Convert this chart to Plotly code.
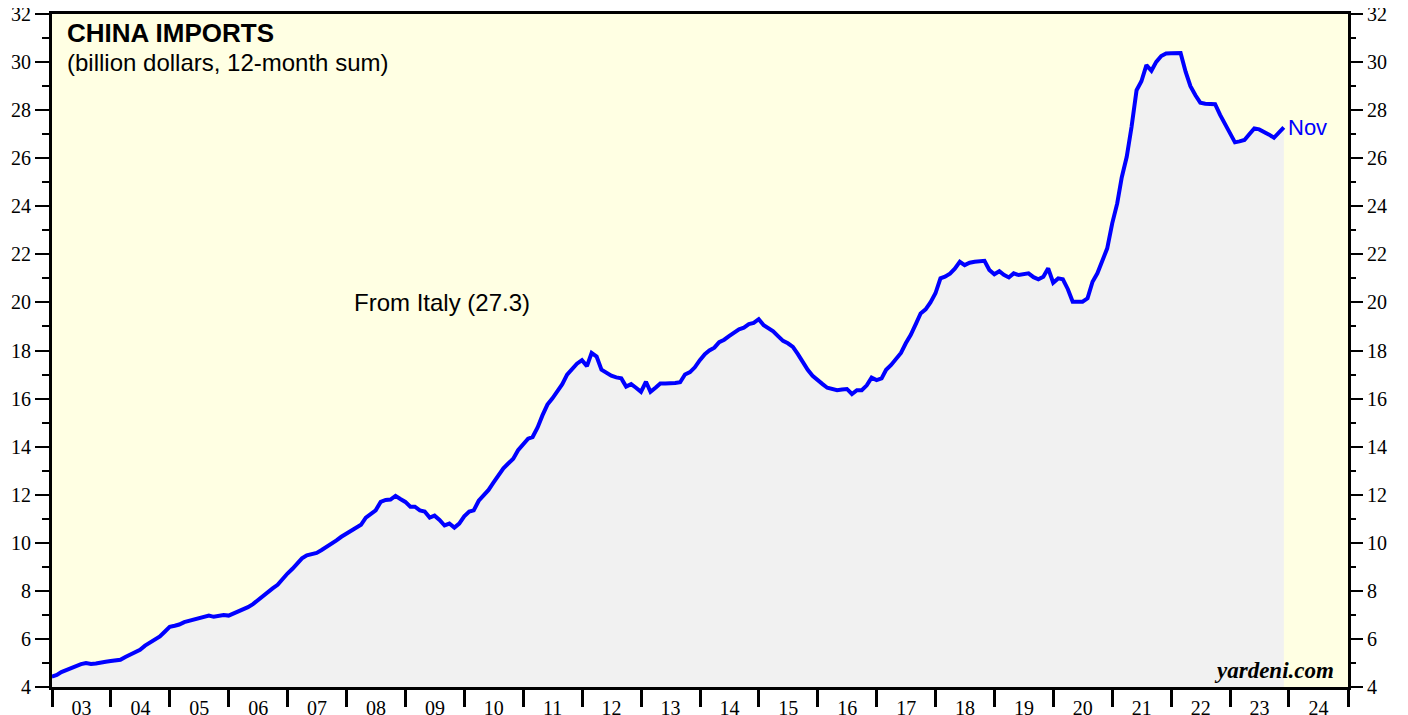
import pandas as pd
import plotly.graph_objects as go

# China imports from Italy, billion dollars, 12-month sum (Dec 2002 .. Nov 2023)
imports = [
    4.43,
    4.50, 4.62, 4.70, 4.82, 4.88, 4.95, 5.00, 4.96, 4.98, 5.03, 5.05, 5.08,
    5.10, 5.13, 5.25, 5.35, 5.45, 5.55, 5.72, 5.85, 5.98, 6.10, 6.30, 6.50,
    6.55, 6.60, 6.70, 6.75, 6.82, 6.88, 6.92, 6.97, 6.92, 6.97, 6.99, 6.97,
    7.05, 7.12, 7.20, 7.32, 7.45, 7.62, 7.80, 7.95, 8.10, 8.25, 8.50, 8.72,
    8.92, 9.10, 9.35, 9.48, 9.52, 9.58, 9.70, 9.82, 9.95, 10.10, 10.25, 10.38,
    10.50, 10.65, 10.75, 11.05, 11.20, 11.35, 11.70, 11.78, 11.80, 11.95, 11.82, 11.70,
    11.50, 11.50, 11.35, 11.30, 11.05, 11.13, 10.95, 10.72, 10.80, 10.63, 10.80, 11.10,
    11.30, 11.35, 11.75, 11.95, 12.20, 12.50, 12.80, 13.10, 13.30, 13.50, 13.85, 14.10,
    14.33, 14.40, 14.80, 15.30, 15.75, 16.00, 16.30, 16.60, 17.00, 17.25, 17.45, 17.60,
    17.35, 17.90, 17.75, 17.20, 17.05, 16.95, 16.88, 16.84, 16.50, 16.60, 16.45, 16.28,
    16.70, 16.28, 16.45, 16.63, 16.63, 16.63, 16.65, 16.68, 17.00, 17.10, 17.30, 17.60,
    17.85, 18.00, 18.12, 18.35, 18.45, 18.60, 18.75, 18.88, 18.95, 19.10, 19.15, 19.30,
    19.05, 18.95, 18.80, 18.60, 18.40, 18.30, 18.15, 17.85, 17.50, 17.20, 16.95, 16.80,
    16.60, 16.45, 16.40, 16.35, 16.38, 16.40, 16.19, 16.35, 16.35, 16.55, 16.87, 16.77,
    16.84, 17.20, 17.40, 17.65, 17.90, 18.30, 18.65, 19.10, 19.54, 19.71, 20.00, 20.38,
    21.00, 21.07, 21.20, 21.40, 21.69, 21.55, 21.65, 21.69, 21.70, 21.73, 21.35, 21.17,
    21.30, 21.15, 21.04, 21.21, 21.14, 21.18, 21.21, 21.05, 20.96, 21.07, 21.42, 20.82,
    21.00, 20.96, 20.55, 20.03, 20.05, 20.03, 20.17, 20.86, 21.21, 21.70, 22.25, 23.29,
    24.12, 25.20, 26.06, 27.31, 28.83, 29.20, 29.87, 29.64, 30.01, 30.25, 30.36, 30.37,
    30.38, 30.38, 29.60, 29.00, 28.62, 28.31, 28.27, 28.25, 28.25, 27.80, 27.40, 27.00,
    26.66, 26.70, 26.76, 27.00, 27.24, 27.20, 27.10, 26.98, 26.85, 27.10, 27.28,
]
months = pd.date_range("2002-12-31", periods=len(imports), freq="ME")

y_ticks = list(range(4, 33, 2))

SERIF = "Liberation Serif"
SANS = "Liberation Sans"

fig = go.Figure()
fig.add_trace(
    go.Scatter(
        x=months,
        y=imports,
        mode="lines",
        line=dict(color="#0000FF", width=4),
        fill="tozeroy",
        fillcolor="#F1F1F1",
        hoverinfo="x+y",
        showlegend=False,
    )
)
# invisible trace so the right-hand axis gets drawn
fig.add_trace(
    go.Scatter(x=[months[0]], y=[imports[0]], yaxis="y2", mode="markers",
               marker=dict(opacity=0), hoverinfo="skip", showlegend=False)
)

axis_y = dict(
    range=[4, 32],
    tickvals=y_ticks,
    ticks="outside",
    ticklen=14,
    tickwidth=1.5,
    tickcolor="black",
    showgrid=False,
    zeroline=False,
    automargin=False,
    ticklabeloverflow="allow",
    tickfont=dict(family=SERIF, size=20, color="black"),
    minor=dict(dtick=1, ticks="outside", ticklen=7, tickwidth=1.5, tickcolor="black"),
)

# page body has an 8px margin, so the figure is a bit smaller than the window
fig.update_layout(
    width=1400,
    height=707,
    margin=dict(l=44, r=60, t=6, b=28),
    paper_bgcolor="white",
    plot_bgcolor="#FFFFE3",
    xaxis=dict(
        type="date",
        range=["2003-01-01", "2025-01-01"],
        tick0="2003-01-01",
        dtick="M12",
        tickformat="%y",
        ticklabelmode="period",
        ticklabelstandoff=-16,
        ticklabeloverflow="allow",
        ticks="outside",
        ticklen=17,
        tickwidth=2.5,
        tickcolor="black",
        showgrid=False,
        showline=True,
        linecolor="black",
        linewidth=3,
        mirror=True,
        automargin=False,
        tickfont=dict(family=SERIF, size=20, color="black"),
    ),
    yaxis=dict(**axis_y, side="left", showline=True, linecolor="black", linewidth=3, mirror=True),
    yaxis2=dict(**axis_y, side="right", overlaying="y", matches="y", showline=False),
    annotations=[
        dict(text="<b>CHINA IMPORTS</b>", x=0.010, y=0.997, xref="paper", yref="paper",
             xanchor="left", yanchor="top", showarrow=False,
             font=dict(family=SANS, size=26, color="black")),
        dict(text="(billion dollars, 12-month sum)", x=0.010, y=0.951, xref="paper", yref="paper",
             xanchor="left", yanchor="top", showarrow=False,
             font=dict(family=SANS, size=24, color="black")),
        dict(text="From Italy (27.3)", x=0.301, y=0.572, xref="paper", yref="paper",
             xanchor="center", yanchor="middle", showarrow=False,
             font=dict(family=SANS, size=24, color="black")),
        dict(text="Nov", x=months[-1], y=imports[-1], xref="x", yref="y",
             xanchor="left", yanchor="middle", xshift=2, showarrow=False,
             font=dict(family=SANS, size=22, color="#0000FF")),
        dict(text="<b><i>yardeni.com</i></b>", x=0.991, y=0.025, xref="paper", yref="paper",
             xanchor="right", yanchor="middle", showarrow=False,
             font=dict(family=SERIF, size=23, color="black")),
    ],
)

fig.write_html("out.html")
